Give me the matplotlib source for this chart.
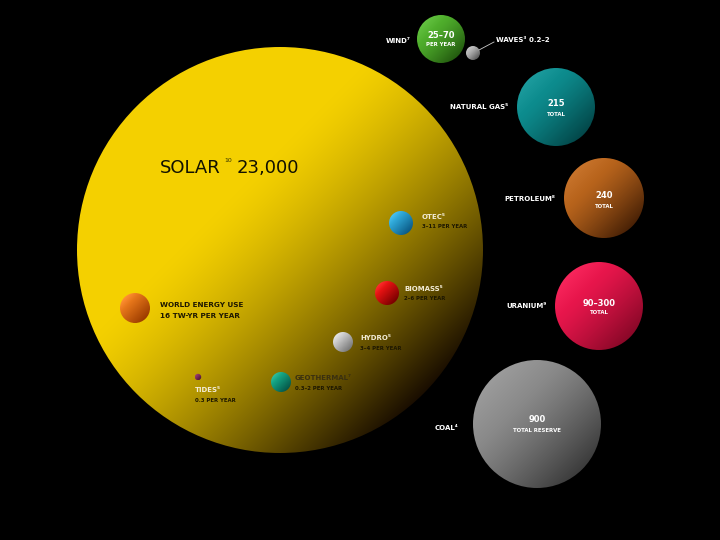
import numpy as np
import matplotlib
matplotlib.use("Agg")
import matplotlib.pyplot as plt
from matplotlib.patches import Circle
from matplotlib.colors import to_rgb

# ---- data ----
names = ["SOLAR", "WIND", "WAVES", "NATURAL GAS", "PETROLEUM", "URANIUM", "COAL",
         "OTEC", "BIOMASS", "WORLD ENERGY USE", "HYDRO", "GEOTHERMAL", "TIDES"]
values = ["23,000", "25\u201370", "0.2\u20132", "215", "240", "90\u2013300", "900",
          "3\u201311", "2\u20136", "16", "3\u20134", "0.3\u20132", "0.3"]
units = ["", "PER YEAR", "", "TOTAL", "TOTAL", "TOTAL", "TOTAL RESERVE",
         "PER YEAR", "PER YEAR", "TW-YR PER YEAR", "PER YEAR", "PER YEAR", "PER YEAR"]
notes = ["\u00b9\u2070", "\u2077", "\u00b3", "\u2075", "\u2078", "\u2079", "\u2074",
         "\u2075", "\u2075", "", "\u2075", "\u2077", "\u2075"]

# ---- layout (pixel space) ----
cx = [280, 441, 473, 556, 604, 599, 537, 401, 387, 135, 343, 281, 198]
cy = [250, 39, 53, 107, 198, 306, 424, 223, 293, 308, 342, 382, 377]
rad = [203, 24, 7, 39, 40, 44, 64, 12, 12, 15, 10, 10, 3.2]
base = ["#f4d000", "#4fae2c", "#b4b4b4", "#0d8c8e", "#b8641c", "#e8164c", "#8c8c8c",
        "#2ea6d6", "#e41212", "#e6761a", "#cbcbcb", "#14a383", "#8e3464"]
dark = ["#1a0e00", "#245c10", "#5a5a5a", "#03484a", "#4a2206", "#8a0828", "#3c3c3c",
        "#0c5c88", "#7a0000", "#9c3c00", "#7a7a7a", "#06584a", "#4a1434"]
t0s = [-0.35, -0.5, -0.5, -0.5, -0.5, -0.5, -0.5, -0.5, -0.5, -0.5, -0.5, -0.5, -0.5]
pows = [1.35, 1.2, 1.2, 1.2, 1.2, 1.2, 1.2, 1.0, 1.0, 1.0, 1.0, 1.0, 1.0]
hls = [0.0, 0.08, 0.08, 0.06, 0.06, 0.06, 0.06, 0.1, 0.1, 0.1, 0.1, 0.1, 0.05]

fig = plt.figure(figsize=(7.2, 5.4), dpi=100, facecolor="black")
ax = fig.add_axes([0, 0, 1, 1])
ax.set_facecolor("black")
ax.set_xlim(0, 720)
ax.set_ylim(540, 0)
ax.set_aspect("equal")
ax.axis("off")


def sphere(x, y, r, c0, c1, t0, p, h, z):
    n = max(int(r * 2), 24)
    g = np.linspace(-1, 1, n)
    dx, dy = np.meshgrid(g, g)
    t = (dx + dy) / np.sqrt(2)
    w = np.clip((t - t0) / (1 - t0), 0, 1) ** p
    a = np.array(to_rgb(c0))
    b = np.array(to_rgb(c1))
    img = a[None, None, :] * (1 - w[..., None]) + b[None, None, :] * w[..., None]
    hl = np.clip((-t - 0.5) / 0.5, 0, 1) * h
    img = np.clip(img + hl[..., None], 0, 1)
    im = ax.imshow(img, extent=(x - r, x + r, y + r, y - r), origin="upper",
                   zorder=z, interpolation="bilinear")
    circ = Circle((x, y), r, transform=ax.transData, facecolor="none", edgecolor="none")
    ax.add_patch(circ)
    im.set_clip_path(circ)


for i in range(len(names)):
    sphere(cx[i], cy[i], rad[i], base[i], dark[i], t0s[i], pows[i], hls[i], 2 if i else 1)

ax.set_xlim(0, 720)
ax.set_ylim(540, 0)

fam = "DejaVu Sans"
W = "white"
D = "#1e1800"
L = "#f3ecd6"
fs = 5.0

# SOLAR title
ax.text(160, 173, "SOLAR", fontsize=13, color="#111100", family=fam, va="baseline", ha="left", zorder=5)
ax.text(224, 162, "10", fontsize=4.5, color="#333300", family=fam, va="baseline", ha="left", zorder=5)
ax.text(237, 173, values[0], fontsize=13, color="#111100", family=fam, va="baseline", ha="left", zorder=5)

# outside labels (right-aligned to circle)
def outside(i, lx, ly, ha="right"):
    ax.text(lx, ly, names[i] + notes[i], fontsize=fs, color=W, family=fam,
            fontweight="bold", ha=ha, va="center", zorder=5)

outside(1, 411, 41)
outside(3, 508, 107)
outside(4, 555, 199)
outside(5, 547, 306)
outside(6, 458, 428)

# waves label with leader line
ax.text(496, 40, names[2] + notes[2] + " " + values[2], fontsize=fs, color=W, family=fam,
        fontweight="bold", ha="left", va="center", zorder=5)
ax.plot([479, 494], [50, 42], color="#cccccc", lw=0.6, zorder=5)

# values inside big balls
def inside(i, dy1=-4, dy2=6, fs1=6.0, fs2=3.9):
    ax.text(cx[i], cy[i] + dy1, values[i], fontsize=fs1, color=W, family=fam,
            fontweight="bold", ha="center", va="center", zorder=6)
    ax.text(cx[i], cy[i] + dy2, units[i], fontsize=fs2, color=W, family=fam,
            fontweight="bold", ha="center", va="center", zorder=6)

inside(1, -4, 6)
inside(3, -3, 7)
inside(4, -2, 8)
inside(5, -2, 7)
inside(6, -4, 6)

# labels on the sun
def onsun(i, lx, ly, tcol, sub):
    ax.text(lx, ly, names[i] + notes[i], fontsize=fs, color=tcol, family=fam,
            fontweight="bold", ha="left", va="center", zorder=5)
    ax.text(lx, ly + 10, sub, fontsize=3.9, color=D, family=fam,
            fontweight="bold", ha="left", va="center", zorder=5)

onsun(7, 422, 217, L, values[7] + " " + units[7])
onsun(8, 404, 289, L, values[8] + " " + units[8])
ax.text(160, 305, names[9], fontsize=5.2, color=D, family=fam, fontweight="bold",
        ha="left", va="center", zorder=5)
ax.text(160, 316, values[9] + " " + units[9], fontsize=5.2, color=D, family=fam,
        fontweight="bold", ha="left", va="center", zorder=5)
onsun(10, 360, 338, L, values[10] + " " + units[10])
onsun(11, 295, 378, "#3a3010", values[11] + " " + units[11])
onsun(12, 195, 390, L, values[12] + " " + units[12])

fig.savefig("out.png", dpi=100, facecolor="black")
